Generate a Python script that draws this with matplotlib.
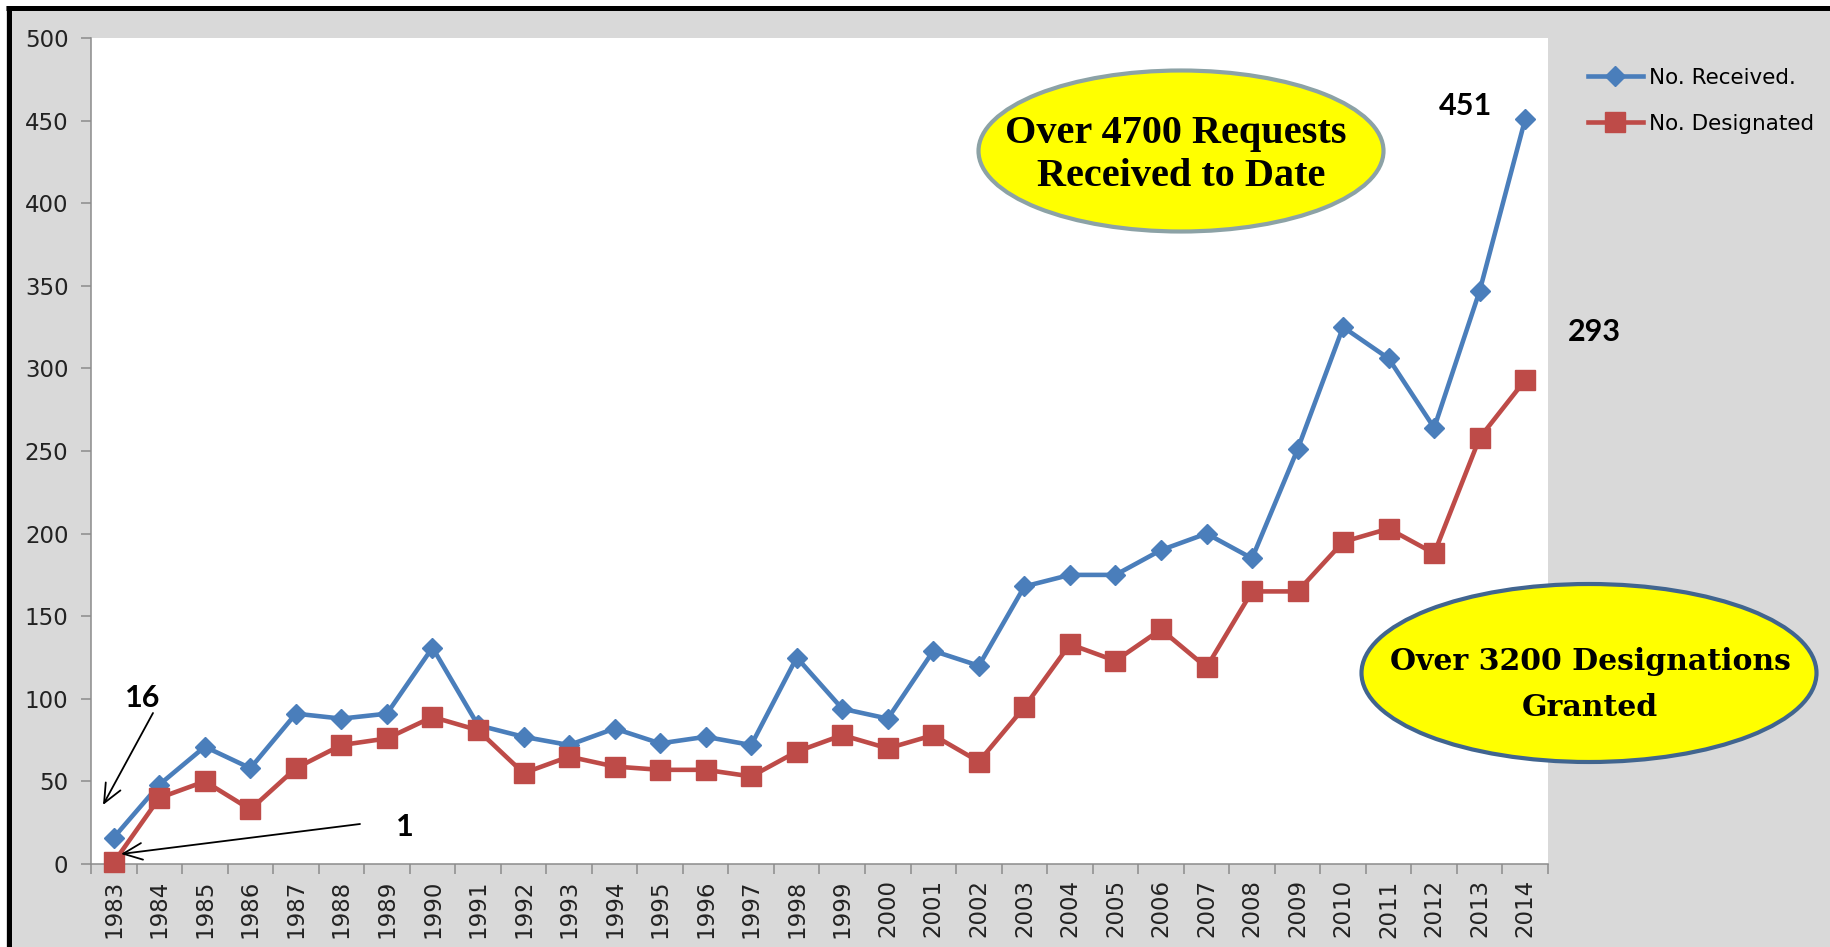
import numpy as np
import matplotlib
matplotlib.use("Agg")
import matplotlib.pyplot as plt
from matplotlib.patches import Ellipse, Rectangle, FancyArrowPatch, ArrowStyle
from matplotlib.lines import Line2D

# ---------------- data ----------------
years = ['1983', '1984', '1985', '1986', '1987', '1988', '1989', '1990', '1991', '1992',
         '1993', '1994', '1995', '1996', '1997', '1998', '1999', '2000', '2001', '2002',
         '2003', '2004', '2005', '2006', '2007', '2008', '2009', '2010', '2011', '2012',
         '2013', '2014']
received = [16, 48, 71, 58, 91, 88, 91, 131, 84, 77, 72, 82, 73, 77, 72, 125,
            94, 88, 129, 120, 168, 175, 175, 190, 200, 185, 251, 325, 306, 264, 347, 451]
designated = [1, 40, 50, 33, 58, 72, 76, 89, 81, 55, 65, 59, 57, 57, 53, 68,
              78, 70, 78, 62, 95, 133, 123, 142, 119, 165, 165, 195, 203, 188, 258, 293]
series_names = ['No. Received.', 'No. Designated']
y_ticks = [0, 50, 100, 150, 200, 250, 300, 350, 400, 450, 500]

# ---------------- figure geometry (pixels) ----------------
W, H = 1831, 947
DPI = 100
fig = plt.figure(figsize=(W / DPI, H / DPI), dpi=DPI, facecolor='#D9D9D9')

def fx(x):
    return x / W

def fy(y):
    return 1 - y / H

# white outer margin + black border (top & left)
fig.add_artist(Rectangle((0, fy(6)), 1, 6 / H, transform=fig.transFigure,
                         facecolor='white', edgecolor='none', zorder=0))
fig.add_artist(Rectangle((0, 0), 6 / W, 1, transform=fig.transFigure,
                         facecolor='white', edgecolor='none', zorder=0))
fig.add_artist(Line2D([fx(9), fx(9)], [0, fy(6)], transform=fig.transFigure,
                      color='black', lw=3.6, solid_capstyle='butt'))
fig.add_artist(Line2D([fx(6), 1], [fy(8.5), fy(8.5)], transform=fig.transFigure,
                      color='black', lw=3.6, solid_capstyle='butt'))

# plot area
L, R, T, B = 91, 1548, 38, 864
ax = fig.add_axes([fx(L), fy(B), (R - L) / W, (B - T) / H])
ax.set_facecolor('white')

x = np.arange(len(years))
blue = '#4A7EBB'
red = '#BE4B48'
ax.plot(x, received, color=blue, lw=3.3, marker='D', markersize=10,
        markeredgecolor=blue, markerfacecolor=blue, label=series_names[0],
        clip_on=False, zorder=3)
ax.plot(x, designated, color=red, lw=3.3, marker='s', markersize=14,
        markeredgecolor=red, markerfacecolor=red, label=series_names[1],
        clip_on=False, zorder=3)

ax.set_xlim(-0.5, len(years) - 0.5)
ax.set_ylim(0, 500)
ax.set_yticks(y_ticks)
ax.set_yticklabels([str(v) for v in y_ticks])
ax.set_xticks(x)
ax.set_xticklabels(years, rotation=90)
ax.set_xticks(np.arange(-0.5, len(years), 1), minor=True)

axis_col = '#8C8C8C'
for s in ['top', 'right']:
    ax.spines[s].set_visible(False)
for s in ['left', 'bottom']:
    ax.spines[s].set_color(axis_col)
    ax.spines[s].set_linewidth(1.1)

ax.tick_params(axis='y', which='major', direction='out', length=7.2, width=1.1,
               color=axis_col, pad=9, labelsize=16.5, labelcolor='#222222')
ax.tick_params(axis='x', which='major', length=0, pad=11, labelsize=16.5,
               labelcolor='#222222')
ax.tick_params(axis='x', which='minor', direction='out', length=7.2, width=1.1,
               color=axis_col)
for lab in ax.get_xticklabels() + ax.get_yticklabels():
    lab.set_family('DejaVu Sans')

# legend (in grey area at right)
handles, labels = ax.get_legend_handles_labels()
fig.legend(handles, labels, loc='upper left', bbox_to_anchor=(fx(1588), fy(68)),
           bbox_transform=fig.transFigure, frameon=False,
           borderpad=0, borderaxespad=0, handlelength=2.55, handletextpad=0.3,
           labelspacing=1.2, numpoints=1, prop={'family': 'DejaVu Sans', 'size': 15.5})

# ---------------- annotations ----------------
num_font = dict(family=['Lato', 'DejaVu Sans'], fontweight='bold', fontsize=22,
                color='black', ha='center', va='center')
fig.text(fx(143), fy(698), '16', **num_font)
fig.text(fx(405), fy(827), '1', **num_font)
fig.text(fx(1465), fy(106), '451', **num_font)
fig.text(fx(1594), fy(332), '293', **num_font)

arrow_style = ArrowStyle('->', head_length=0.68, head_width=0.3)
for (x0, y0), (x1, y1) in [((153, 713), (103, 805)), ((360, 824), (121, 854))]:
    fig.add_artist(FancyArrowPatch((fx(x0), fy(y0)), (fx(x1), fy(y1)),
                                   transform=fig.transFigure, arrowstyle=arrow_style,
                                   mutation_scale=20, lw=1.3, color='black',
                                   shrinkA=0, shrinkB=0, zorder=5))

# ellipse 1
fig.add_artist(Ellipse((fx(1181), fy(151)), 405 / W, 161 / H, transform=fig.transFigure,
                       facecolor='#FFFF00', edgecolor='#8CA2A6', lw=3.0, zorder=4))
e1 = dict(family=['Liberation Serif', 'DejaVu Serif'], fontweight='bold', fontsize=29,
          color='black', ha='center', va='center', zorder=6)
fig.text(fx(1176), fy(133), 'Over 4700 Requests', **e1)
fig.text(fx(1181), fy(176), 'Received to Date', **e1)

# ellipse 2
fig.add_artist(Ellipse((fx(1589), fy(673)), 455 / W, 178 / H, transform=fig.transFigure,
                       facecolor='#FFFF00', edgecolor='#41658F', lw=3.0, zorder=4))
e2 = dict(family=['DejaVu Serif'], fontweight='bold', fontsize=21.5,
          color='black', ha='center', va='center', zorder=6)
fig.text(fx(1590), fy(662), 'Over 3200 Designations', **e2)
fig.text(fx(1590), fy(707), 'Granted', **e2)

fig.savefig('out.png', dpi=DPI, facecolor=fig.get_facecolor())
